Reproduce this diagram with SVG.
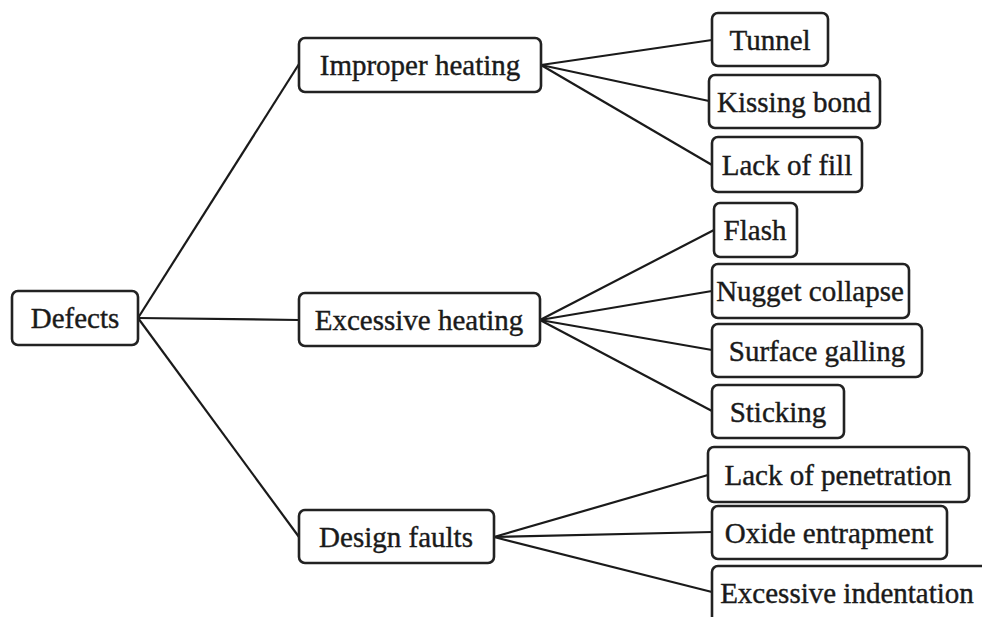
<svg xmlns="http://www.w3.org/2000/svg" width="982" height="617" viewBox="0 0 982 617">
<style>
.box{fill:#fff;stroke:#222;stroke-width:2.6}
.lbl{font-family:"Liberation Serif","Times New Roman",serif;font-size:29px;fill:#1a1a1a;stroke:#1a1a1a;stroke-width:0.4;text-anchor:middle}
.conn line{stroke:#1a1a1a;stroke-width:2.2}
</style>
<rect width="982" height="617" fill="#fff"/>
<g id="connectors" class="conn">
<line x1="138" y1="318" x2="299" y2="64"/>
<line x1="138" y1="318" x2="299" y2="320"/>
<line x1="138" y1="318" x2="299" y2="537"/>
<line x1="541" y1="65" x2="712" y2="40"/>
<line x1="541" y1="65" x2="709" y2="101"/>
<line x1="541" y1="65" x2="712" y2="165"/>
<line x1="540" y1="320" x2="714" y2="230"/>
<line x1="540" y1="320" x2="712" y2="291"/>
<line x1="540" y1="320" x2="712" y2="350"/>
<line x1="540" y1="320" x2="712" y2="411"/>
<line x1="494" y1="537" x2="708" y2="475"/>
<line x1="494" y1="537" x2="712" y2="532"/>
<line x1="494" y1="537" x2="712" y2="592"/>
</g>
<g id="defects"><rect class="box" x="12" y="291" width="126" height="54" rx="6"/><text class="lbl" x="75" y="328">Defects</text></g>
<g id="improper-heating"><rect class="box" x="299" y="38" width="242" height="54" rx="6"/><text class="lbl" x="420" y="75">Improper heating</text></g>
<g id="excessive-heating"><rect class="box" x="299" y="293" width="241" height="53" rx="6"/><text class="lbl" x="419" y="330">Excessive heating</text></g>
<g id="design-faults"><rect class="box" x="299" y="510" width="195" height="53" rx="6"/><text class="lbl" x="396" y="547">Design faults</text></g>
<g id="tunnel"><rect class="box" x="712" y="13" width="116" height="53" rx="6"/><text class="lbl" x="770" y="50">Tunnel</text></g>
<g id="kissing-bond"><rect class="box" x="709" y="75" width="171" height="53" rx="6"/><text class="lbl" x="794" y="112">Kissing bond</text></g>
<g id="lack-of-fill"><rect class="box" x="712" y="137" width="150" height="55" rx="6"/><text class="lbl" x="787" y="175">Lack of fill</text></g>
<g id="flash"><rect class="box" x="714" y="203" width="83" height="54" rx="6"/><text class="lbl" x="755" y="240">Flash</text></g>
<g id="nugget-collapse"><rect class="box" x="712" y="264" width="197" height="54" rx="6"/><text class="lbl" x="810" y="301">Nugget collapse</text></g>
<g id="surface-galling"><rect class="box" x="712" y="324" width="210" height="53" rx="6"/><text class="lbl" x="817" y="361">Surface galling</text></g>
<g id="sticking"><rect class="box" x="712" y="385" width="132" height="53" rx="6"/><text class="lbl" x="778" y="422">Sticking</text></g>
<g id="lack-of-penetration"><rect class="box" x="708" y="447" width="261" height="55" rx="6"/><text class="lbl" x="838" y="485">Lack of penetration</text></g>
<g id="oxide-entrapment"><rect class="box" x="712" y="506" width="235" height="53" rx="6"/><text class="lbl" x="829" y="543">Oxide entrapment</text></g>
<g id="excessive-indentation"><rect class="box" x="712" y="566" width="290" height="70" rx="6"/><text class="lbl" x="847" y="603">Excessive indentation</text></g>
</svg>
